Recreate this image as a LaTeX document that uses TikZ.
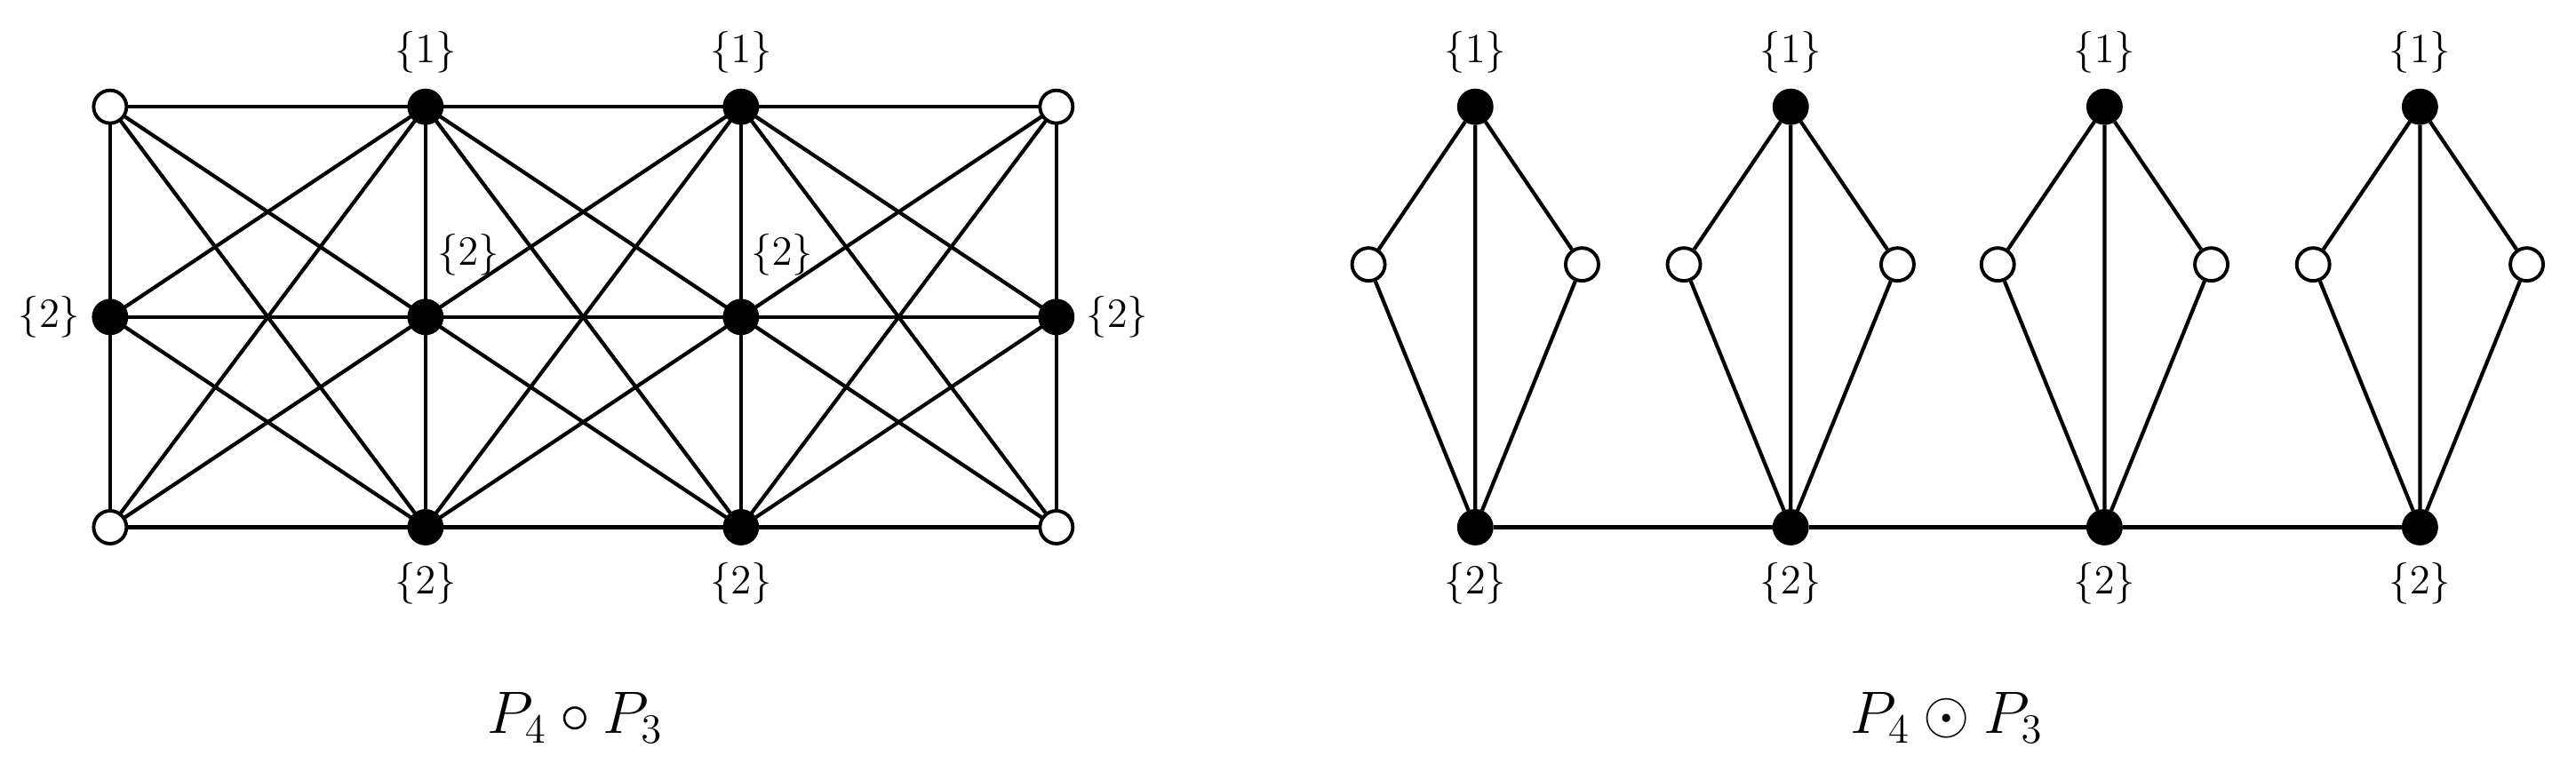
\documentclass[tikz,border=0pt]{standalone}
\begin{document}
\begin{tikzpicture}[x=0.02cm,y=-0.02cm,
  bv/.style={circle,fill=black,draw=black,line width=1.2pt,minimum size=0.4cm,inner sep=0pt},
  wv/.style={circle,fill=white,draw=black,line width=1.2pt,minimum size=0.4cm,inner sep=0pt},
  lab/.style={font=\Large},
  ed/.style={line width=1.3pt}]
\useasboundingbox (0,0) rectangle (1568,465);
% left graph
\foreach \i/\x in {1/67,2/259,3/451,4/643}{
  \coordinate (p\i t) at (\x,65);
  \coordinate (p\i m) at (\x,193);
  \coordinate (p\i b) at (\x,321);
}
\begin{scope}[ed]
\foreach \i in {1,2,3,4}{ \draw (p\i t)--(p\i m)--(p\i b); }
\foreach \i/\j in {1/2,2/3,3/4}{
  \foreach \a in {t,m,b}{ \foreach \b in {t,m,b}{ \draw (p\i\a)--(p\j\b); } }
}
\end{scope}
\node[wv] (n1t) at (p1t) {};
\node[bv] (n2t) at (p2t) {};
\node[bv] (n3t) at (p3t) {};
\node[wv] (n4t) at (p4t) {};
\node[bv] (n1m) at (p1m) {};
\node[bv] (n2m) at (p2m) {};
\node[bv] (n3m) at (p3m) {};
\node[bv] (n4m) at (p4m) {};
\node[wv] (n1b) at (p1b) {};
\node[bv] (n2b) at (p2b) {};
\node[bv] (n3b) at (p3b) {};
\node[wv] (n4b) at (p4b) {};
\node[lab] (l1) at (259,32) {$\{1\}$};
\node[lab] (l2) at (451,32) {$\{1\}$};
\node[lab] (l3) at (259,355) {$\{2\}$};
\node[lab] (l4) at (451,355) {$\{2\}$};
\node[lab] (l5) at (30,193) {$\{2\}$};
\node[lab] (l6) at (680,193) {$\{2\}$};
\node[lab] (l7) at (285,155) {$\{2\}$};
\node[lab] (l8) at (476,155) {$\{2\}$};
\node[font=\huge] (c1) at (350,437) {$P_4\circ P_3$};
% right graph
\foreach \i/\x in {1/898,2/1090,3/1281,4/1473}{
  \node[bv] (t\i) at (\x,65) {};
  \node[bv] (b\i) at (\x,321) {};
  \node[wv] (l\i) at (\x-65,161) {};
  \node[wv] (r\i) at (\x+65,161) {};
  \draw[ed] (t\i)--(l\i)--(b\i)--(r\i)--(t\i)--(b\i);
  \node[lab] (tl\i) at (\x,32) {$\{1\}$};
  \node[lab] (bl\i) at (\x,355) {$\{2\}$};
}
\draw[ed] (b1)--(b2)--(b3)--(b4);
\node[font=\huge] (c2) at (1185,437) {$P_4\odot P_3$};
\end{tikzpicture}
\end{document}
